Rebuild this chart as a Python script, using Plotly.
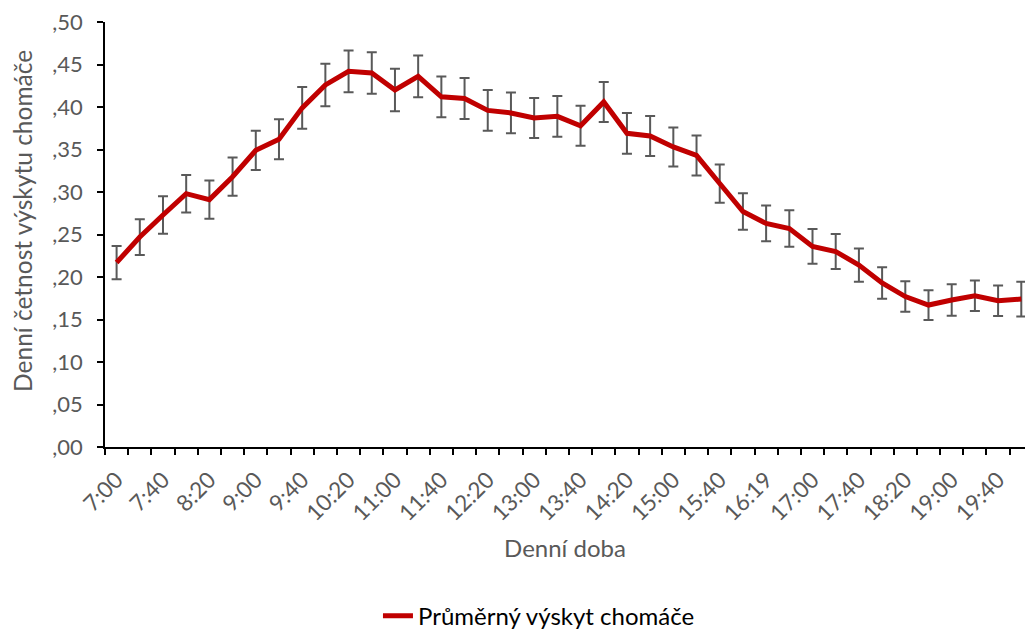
import plotly.graph_objects as go

# Time of day (20-minute steps)
times = ["7:00", "7:20", "7:40", "8:00", "8:20", "8:40", "9:00", "9:20", "9:40", "10:00",
         "10:20", "10:40", "11:00", "11:20", "11:40", "12:00", "12:20", "12:40", "13:00", "13:20",
         "13:40", "14:00", "14:20", "14:40", "15:00", "15:20", "15:40", "16:00", "16:19", "16:40",
         "17:00", "17:20", "17:40", "18:00", "18:20", "18:40", "19:00", "19:20", "19:40", "20:00"]

# Mean daily frequency of tuft occurrence
mean_freq = [0.217, 0.247, 0.273, 0.298, 0.291, 0.318, 0.349, 0.362, 0.399, 0.426,
             0.442, 0.440, 0.420, 0.436, 0.412, 0.410, 0.396, 0.393, 0.387, 0.389,
             0.378, 0.406, 0.369, 0.366, 0.353, 0.343, 0.310, 0.277, 0.263, 0.257,
             0.236, 0.230, 0.214, 0.193, 0.177, 0.167, 0.173, 0.178, 0.172, 0.174]

# Error (half-width of the error bar)
err = [0.0195, 0.021, 0.022, 0.022, 0.0225, 0.0225, 0.023, 0.0235, 0.0245, 0.025,
       0.0245, 0.0245, 0.025, 0.0245, 0.024, 0.024, 0.024, 0.024, 0.0235, 0.024,
       0.0235, 0.0235, 0.024, 0.0235, 0.023, 0.0235, 0.0225, 0.0215, 0.021, 0.0215,
       0.0205, 0.0205, 0.0195, 0.0185, 0.018, 0.0175, 0.0185, 0.018, 0.018, 0.0205]

y_ticks = [0.0, 0.05, 0.10, 0.15, 0.20, 0.25, 0.30, 0.35, 0.40, 0.45, 0.50]
y_ticktext = [",00", ",05", ",10", ",15", ",20", ",25", ",30", ",35", ",40", ",45", ",50"]

# show every second time label
x_ticktext = [t if i % 2 == 0 else "" for i, t in enumerate(times)]

FONT = "Lato"
GRAY = "#595959"

fig = go.Figure()
fig.add_trace(go.Scatter(
    x=times, y=mean_freq, mode="lines",
    name="Průměrný výskyt chomáče",
    line=dict(color="#C00000", width=5),
    error_y=dict(type="data", array=err, visible=True,
                 color=GRAY, thickness=2, width=5),
))

fig.update_layout(
    width=1025, height=632,
    margin=dict(l=105, r=0, t=22, b=185, autoexpand=False),
    paper_bgcolor="white", plot_bgcolor="white",
    font=dict(family=FONT, color=GRAY),
    showlegend=True,
    legend=dict(orientation="h", x=0.4717, xanchor="center",
                y=-0.398, yanchor="middle",
                font=dict(family=FONT, size=24, color="#000000")),
    annotations=[dict(
        text="Denní četnost výskytu chomáče", textangle=-90,
        xref="paper", yref="paper", x=-0.0891, y=0.532,
        xanchor="center", yanchor="middle", showarrow=False,
        font=dict(family=FONT, size=24.5, color=GRAY),
    )],
)

fig.update_xaxes(
    type="category", range=[-0.5, 39.16], automargin=False,
    tickmode="array", tickvals=times, ticktext=x_ticktext,
    tickson="boundaries", ticks="outside", ticklen=6, tickcolor="black", tickwidth=1.5,
    ticklabelstandoff=9,
    tickangle=-45, tickfont=dict(family=FONT, size=22.5, color=GRAY),
    showline=True, linecolor="black", linewidth=1.5, showgrid=False, zeroline=False,
    title=dict(text="Denní doba", font=dict(family=FONT, size=24, color=GRAY), standoff=15),
)

fig.update_yaxes(
    range=[0, 0.5], automargin=False,
    tickmode="array", tickvals=y_ticks, ticktext=y_ticktext,
    ticks="outside", ticklen=6, tickcolor="black", tickwidth=1.5,
    ticklabelstandoff=10,
    tickfont=dict(family=FONT, size=22, color=GRAY),
    showline=True, linecolor="black", linewidth=1.5, showgrid=False, zeroline=False,
)

fig.write_html("out.html")
